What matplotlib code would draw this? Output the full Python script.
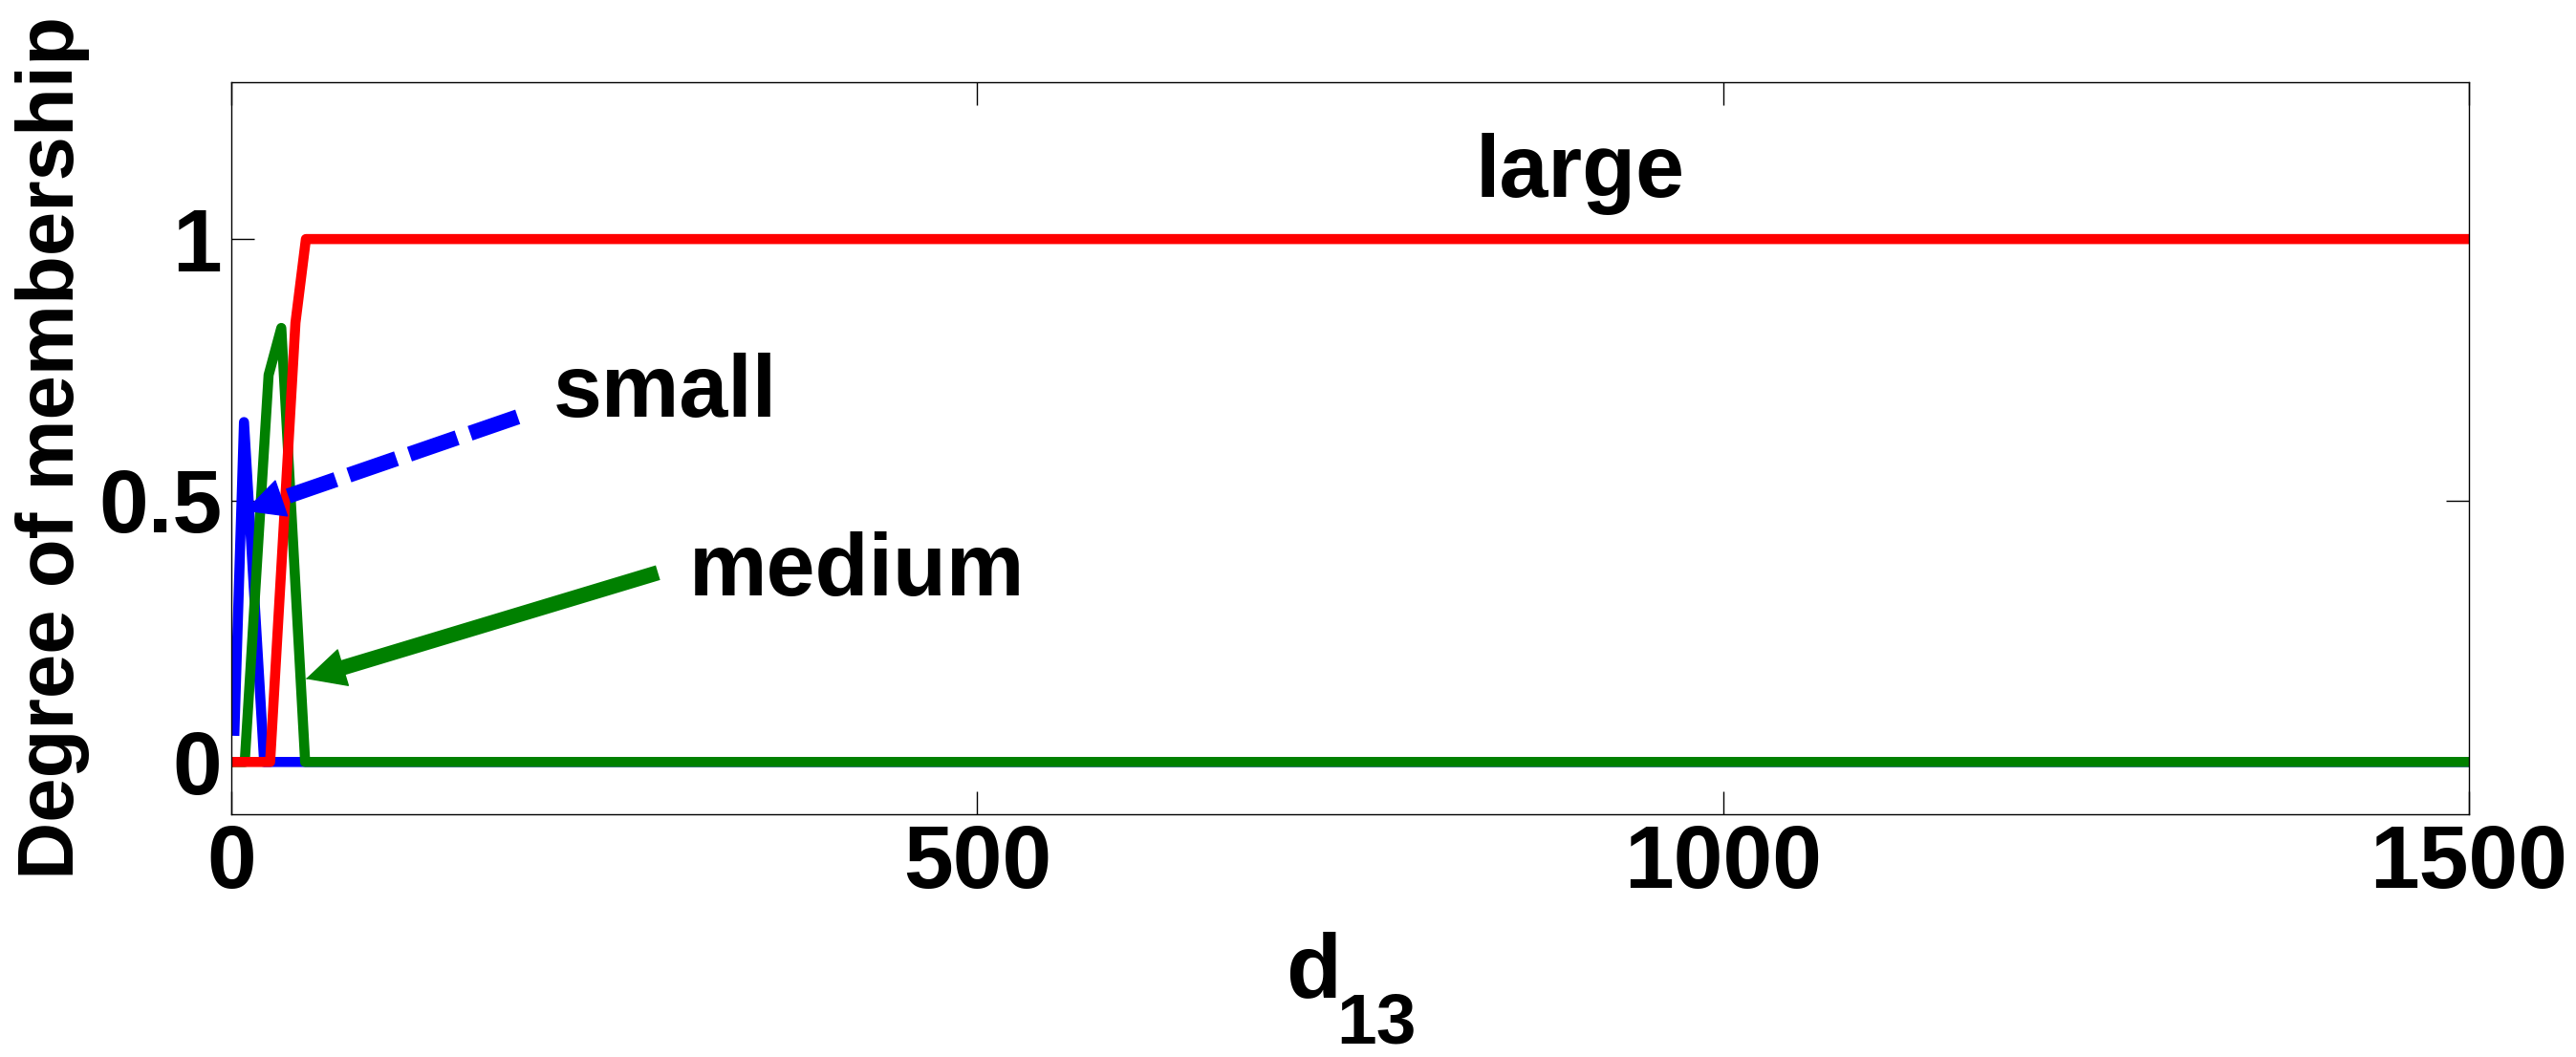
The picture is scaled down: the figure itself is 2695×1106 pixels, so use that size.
import matplotlib
matplotlib.use("Agg")
import matplotlib.pyplot as plt
from matplotlib.patches import ArrowStyle

plt.rcParams['font.family'] = ['Liberation Sans', 'DejaVu Sans']
plt.rcParams['font.weight'] = 'bold'

# ---- data ----
x_small = [2, 8.5, 22, 50, 1500]
y_small = [0.05, 0.65, 0, 0, 0]
x_medium = [0, 9, 25, 33.5, 49.5, 1500]
y_medium = [0, 0, 0.74, 0.83, 0, 0]
x_large = [0, 26, 43, 50, 1500]
y_large = [0, 0, 0.84, 1, 1]

x_ticks = [0, 500, 1000, 1500]
y_ticks = [0, 0.5, 1]
y_tick_labels = ['0', '0.5', '1']

labels = ['small', 'medium', 'large']
label_pos = [(216, 0.66), (307, 0.318), (834, 1.08)]
arrow_small = ((192, 0.66), (9, 0.48))      # (tail, tip)
arrow_medium = ((286, 0.362), (50, 0.159))

W, H = 2695, 1106
fig = plt.figure(figsize=(W / 100, H / 100), dpi=100)
ax = fig.add_axes([242 / W, 1 - 852 / H, (2583 - 242) / W, (852 - 86) / H])

LW = 7.6
ax.plot(x_small, y_small, color=(0, 0, 1), lw=LW, solid_joinstyle='round', solid_capstyle='butt')
ax.plot(x_medium, y_medium, color=(0, 0.5, 0), lw=LW, solid_joinstyle='round', solid_capstyle='butt')
ax.plot(x_large, y_large, color=(1, 0, 0), lw=LW, solid_joinstyle='round', solid_capstyle='butt')

ax.set_xlim(0, 1500)
ax.set_ylim(-0.1, 1.3)
ax.set_xticks(x_ticks)
ax.set_xticklabels([str(v) for v in x_ticks])
ax.set_yticks(y_ticks)
ax.set_yticklabels(y_tick_labels)
ax.tick_params(direction='in', length=17, width=1.0, top=True, right=True,
               labelsize=67)
ax.tick_params(axis='x', pad=7)
ax.tick_params(axis='y', pad=7)
for s in ax.spines.values():
    s.set_linewidth(1.0)

# annotation text
for txt, (tx, ty) in zip(labels, label_pos):
    ax.text(tx, ty, txt, fontsize=66, fontweight='bold', ha='left', va='baseline')

ARROW_LW = 11.5
HEAD_L, HEAD_W = 28, 14


def draw_arrow(tail, tip, color, ls):
    ax.annotate('', xy=tip, xytext=tail,
                arrowprops=dict(arrowstyle='-', color=color, lw=ARROW_LW,
                                linestyle=ls, capstyle='butt',
                                shrinkA=0, shrinkB=HEAD_L * 0.95))
    near = (tip[0] + 0.002 * (tail[0] - tip[0]), tip[1] + 0.002 * (tail[1] - tip[1]))
    ax.annotate('', xy=tip, xytext=near,
                arrowprops=dict(arrowstyle=ArrowStyle('-|>', head_length=HEAD_L, head_width=HEAD_W),
                                mutation_scale=1, color=color, lw=1, shrinkA=0, shrinkB=0,
                                joinstyle='round'))


draw_arrow(arrow_small[0], arrow_small[1], (0, 0, 1), (0, (3.3, 0.9)))
draw_arrow(arrow_medium[0], arrow_medium[1], (0, 0.5, 0), '-')

# axis labels
ax.set_ylabel('Degree of membership', fontsize=60, fontweight='bold')
ax.yaxis.set_label_coords((94 - 242) / (2583 - 242), 0.5)
fig.text(1345 / W, 1 - 1043 / H, 'd', fontsize=68, fontweight='bold', ha='left', va='baseline')
fig.text(1398 / W, 1 - 1092 / H, '13', fontsize=54, fontweight='bold', ha='left', va='baseline')

fig.savefig('out.png', dpi=100, facecolor='white')
